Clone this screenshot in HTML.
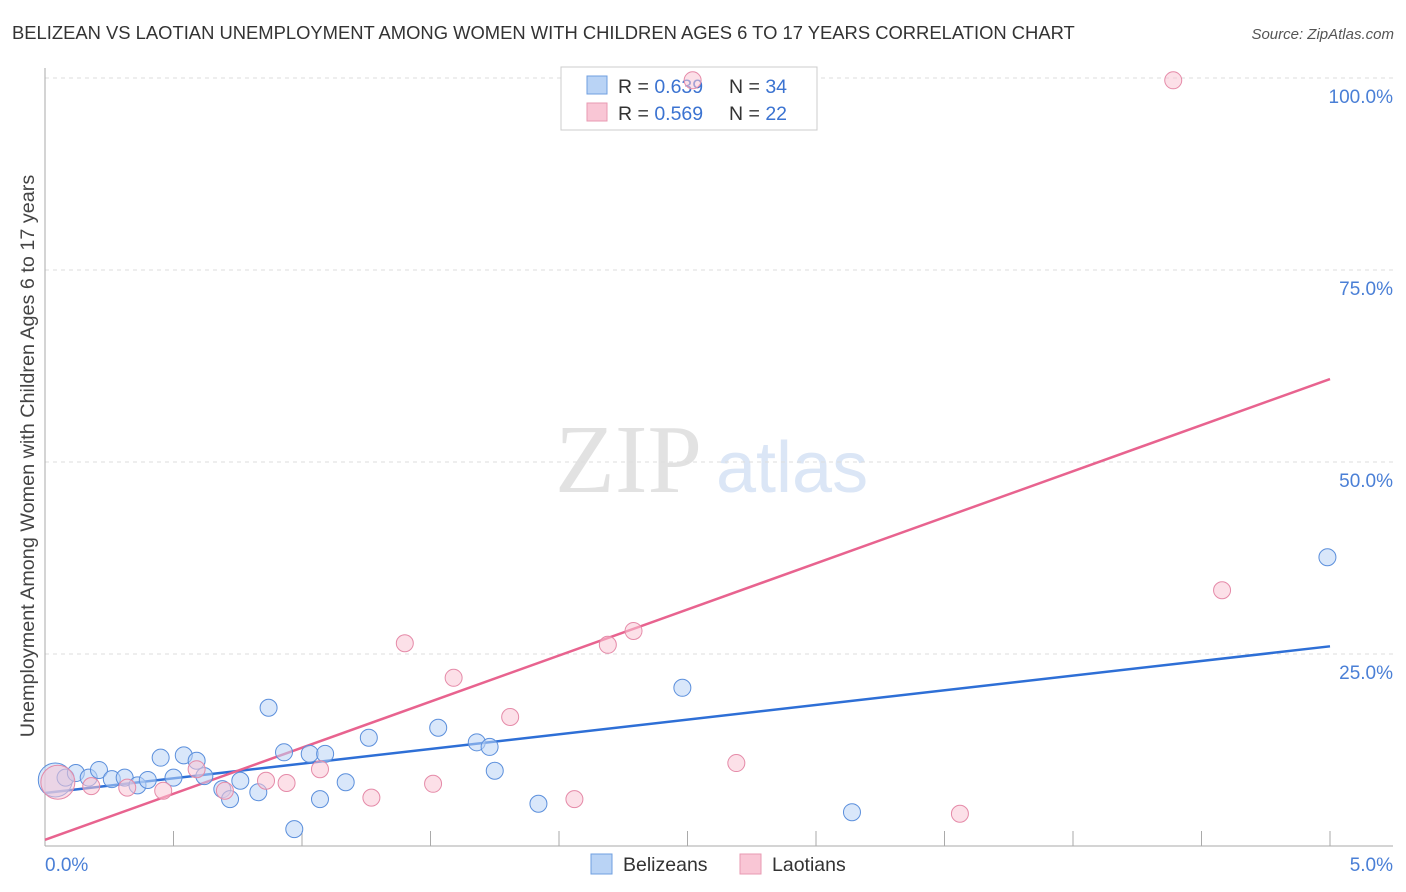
<!DOCTYPE html>
<html><head><meta charset="utf-8"><style>
body{margin:0;background:#fff;font-family:"Liberation Sans",sans-serif}
svg{display:block}
</style></head><body>
<svg id="c" width="1406" height="892">
<text x="12" y="39" font-size="18.4" fill="#333">BELIZEAN VS LAOTIAN UNEMPLOYMENT AMONG WOMEN WITH CHILDREN AGES 6 TO 17 YEARS CORRELATION CHART</text>
<text x="1394" y="39" font-size="15" fill="#555" font-style="italic" text-anchor="end">Source: ZipAtlas.com</text>
<text transform="translate(34,456) rotate(-90)" font-size="19.8" fill="#444" text-anchor="middle">Unemployment Among Women with Children Ages 6 to 17 years</text>
<text x="555" y="492" font-family="Liberation Serif,serif" font-size="98" fill="#e2e2e2">ZIP</text>
<text x="716" y="492" font-size="72" fill="#dbe6f6">atlas</text>
<g id="grid"></g><g id="axes"></g>
<g>
<rect x="561" y="67" width="256" height="63" fill="#fff" stroke="#ccc"/>
<rect x="587" y="76" width="20" height="18" fill="#b9d3f5" stroke="#6f9fe0"/>
<rect x="587" y="103" width="20" height="18" fill="#f9c6d5" stroke="#e89ab2"/>
<text x="618" y="93" font-size="19.5" fill="#333">R = <tspan fill="#3b73d1">0.639</tspan></text>
<text x="729" y="93" font-size="19.5" fill="#333">N = <tspan fill="#3b73d1">34</tspan></text>
<text x="618" y="120" font-size="19.5" fill="#333">R = <tspan fill="#3b73d1">0.569</tspan></text>
<text x="729" y="120" font-size="19.5" fill="#333">N = <tspan fill="#3b73d1">22</tspan></text>
</g>
<g id="lines"></g><g id="pts"></g>
<g>
<rect x="591" y="854" width="21" height="20" fill="#b9d3f5" stroke="#6f9fe0"/>
<text x="623" y="871" font-size="19.5" fill="#333">Belizeans</text>
<rect x="740" y="854" width="21" height="20" fill="#f9c6d5" stroke="#e89ab2"/>
<text x="772" y="871" font-size="19.5" fill="#333">Laotians</text>
</g>
</svg>
<script>
const xTicks=[0,5];
const yTicks=[25,50,75,100];
const belX=[0.04,0.08,0.12,0.17,0.21,0.26,0.31,0.36,0.40,0.45,0.50,0.54,0.59,0.62,0.69,0.72,0.76,0.83,0.87,0.93,0.97,1.03,1.07,1.09,1.17,1.26,1.53,1.68,1.73,1.75,1.92,2.48,3.14,4.99];
const belY=[8.6,8.9,9.5,8.9,9.9,8.7,8.9,7.9,8.6,11.5,8.9,11.8,11.1,9.1,7.4,6.1,8.5,7.0,18.0,12.2,2.2,12.0,6.1,12.0,8.3,14.1,15.4,13.5,12.9,9.8,5.5,20.6,4.4,37.6];
const laoX=[0.05,0.18,0.32,0.46,0.59,0.70,0.86,0.94,1.07,1.27,1.40,1.51,1.59,1.81,2.06,2.19,2.29,2.52,2.69,3.56,4.39,4.58];
const laoY=[8.3,7.8,7.6,7.2,10.0,7.2,8.5,8.2,10.0,6.3,26.4,8.1,21.9,16.8,6.1,26.2,28.0,99.7,10.8,4.2,99.7,33.3];
const belLine=[6.9,26.0];
const laoLine=[0.8,60.8];
const X=v=>45+v*257, Y=v=>846-v*7.68;
const NS="http://www.w3.org/2000/svg";
function mk(p,t,a){const e=document.createElementNS(NS,t);for(const k in a)e.setAttribute(k,a[k]);document.getElementById(p).appendChild(e);return e;}
yTicks.forEach(t=>{
 const g=mk('grid','line',{x1:45,x2:1393,y1:Y(t),y2:Y(t),stroke:'#ddd','stroke-dasharray':'4,4'});
 
 
 const l=mk('grid','text',{x:1393,y:Y(t)+25,'font-size':19,fill:'#4a7fd6','text-anchor':'end'});
 l.textContent=t.toFixed(1)+'%';
 
 
});
mk('axes','line',{x1:45,x2:45,y1:68,y2:846,stroke:'#aaa'});
mk('axes','line',{x1:45,x2:1393,y1:846,y2:846,stroke:'#aaa'});
for(let i=1;i<=10;i++){const t=mk('axes','line',{x1:X(i*0.5),x2:X(i*0.5),y1:831,y2:846,stroke:'#aaa'});
 
 }
xTicks.forEach((t,i)=>{const l=mk('axes','text',{x:i?1393:45,y:871,'font-size':19,fill:'#4a7fd6','text-anchor':i?'end':'start'});
 l.textContent=t.toFixed(1)+'%';
 
 });
function pts(xs,ys,fill,stroke,name){xs.forEach((x,i)=>{const c=mk('pts','circle',{cx:X(x),cy:Y(ys[i]),r:i===0?17:8.5,fill:fill,'fill-opacity':0.55,stroke:stroke,'stroke-width':1});
 
 });}
pts(belX,belY,'#b9d3f5','#5b8fdc','belizean-point');
pts(laoX,laoY,'#f9c6d5','#e58aa8','laotian-point');
const bl=mk('lines','line',{x1:X(0),y1:Y(belLine[0]),x2:X(5),y2:Y(belLine[1]),stroke:'#2e6fd6','stroke-width':2.5});


const ll=mk('lines','line',{x1:X(0),y1:Y(laoLine[0]),x2:X(5),y2:Y(laoLine[1]),stroke:'#e8638f','stroke-width':2.5});


</script>
</body></html>
